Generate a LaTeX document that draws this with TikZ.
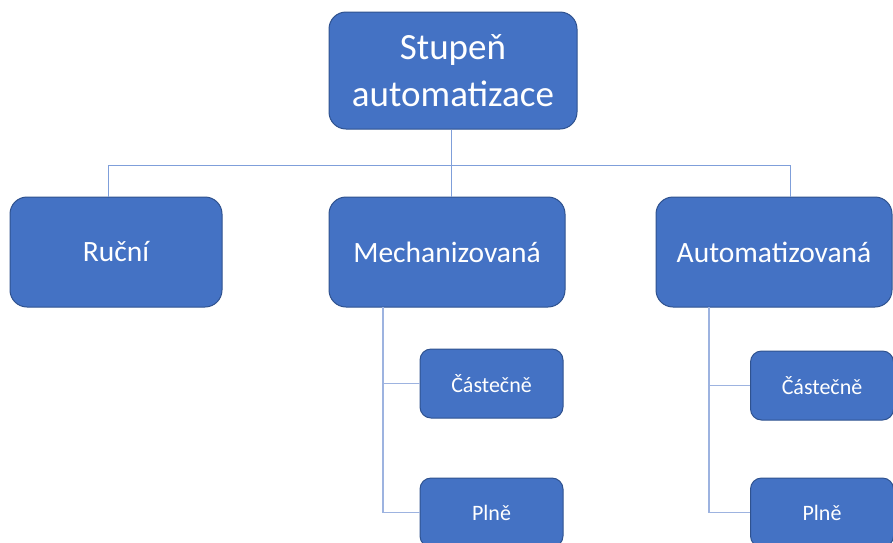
\documentclass[tikz,border=0pt]{standalone}
\usepackage{fontspec}
\setmainfont{Carlito}
\usepackage{xcolor}
\definecolor{boxblue}{HTML}{4472C4}
\definecolor{boxedge}{HTML}{2F528F}
\definecolor{linkblue}{HTML}{7F9FDA}
\definecolor{linklight}{HTML}{9DB3E0}

\tikzset{
  bigbox/.style={draw=boxedge, line width=1pt, fill=boxblue, rounded corners=17pt,
    text=white, align=center, inner sep=0pt},
  smallbox/.style={draw=boxedge, line width=1pt, fill=boxblue, rounded corners=11pt,
    text=white, align=center, inner sep=0pt,
    minimum width=143pt, minimum height=69pt, font=\fontsize{22}{26}\selectfont},
  link/.style={draw=linkblue, line width=0.9pt},
  sublink/.style={draw=linklight, line width=1.3pt}
}

\begin{document}
\begin{tikzpicture}[x=1pt, y=-1pt]
  \useasboundingbox (0,0) rectangle (893,542);
  \clip (0,0) rectangle (893,542);

  % top level
  \node[bigbox, minimum width=248pt, minimum height=117pt,
    font=\fontsize{37}{47}\selectfont] (top) at (453,70.5) {Stupeň\\automatizace};

  % second level
  \node[bigbox, minimum width=212pt, minimum height=110pt,
    font=\fontsize{29.5}{35}\selectfont] (rucni) at (116,252) {Ruční};
  \node[bigbox, minimum width=236pt, minimum height=110pt,
    font=\fontsize{29.5}{35}\selectfont] (mech) at (447,252) {Mechanizovaná};
  \node[bigbox, minimum width=236pt, minimum height=110pt,
    font=\fontsize{29.5}{35}\selectfont] (auto) at (774,252) {Automatizovaná};

  % third level
  \node[smallbox] (mechc) at (491.5,383.5) {Částečně};
  \node[smallbox] (mechp) at (491.5,512.5) {Plně};
  \node[smallbox] (autoc) at (822,385.5) {Částečně};
  \node[smallbox] (autop) at (822,512.5) {Plně};

  % connectors
  \coordinate (bus) at (451,165);
  \coordinate (busl) at (108,165);
  \coordinate (busr) at (790,165);
  \draw[link] (top.south -| bus) -- (bus);
  \draw[link] (busl |- rucni.north) -- (busl) -- (busr) -- (busr |- auto.north);
  \draw[link] (bus) -- (bus |- mech.north);

  \coordinate (mtrunk) at (383,307);
  \draw[sublink] (mtrunk) |- (mechp.west);
  \draw[sublink] (mtrunk |- mechc.west) -- (mechc.west);

  \coordinate (atrunk) at (709,307);
  \draw[sublink] (atrunk) |- (autop.west);
  \draw[sublink] (atrunk |- autoc.west) -- (autoc.west);
\end{tikzpicture}
\end{document}
